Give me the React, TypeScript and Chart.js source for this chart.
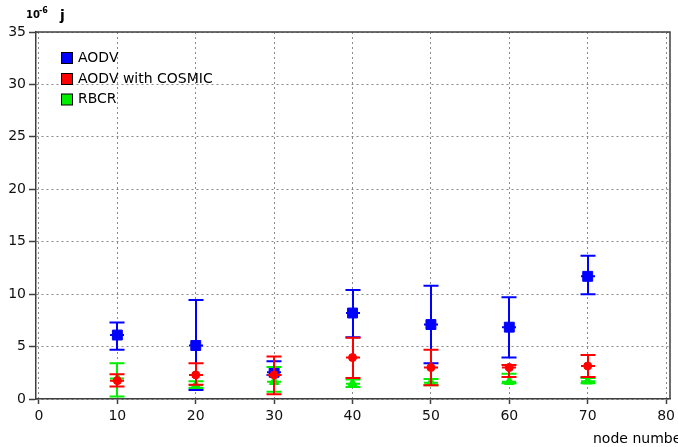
import React, { useEffect, useRef } from 'react';
import { Chart, registerables } from 'chart.js';

Chart.register(...registerables);

const nodeNumbers = [10, 20, 30, 40, 50, 60, 70];
const xTickValues = [0, 10, 20, 30, 40, 50, 60, 70, 80];

const aodvMean = [6.1, 5.1, 2.55, 8.2, 7.1, 6.85, 11.7];
const aodvUpper = [7.3, 9.45, 3.6, 10.4, 10.8, 9.7, 13.65];
const aodvLower = [4.7, 0.85, 2.3, 5.9, 3.4, 3.95, 10.0];

const cosmicMean = [1.75, 2.3, 2.3, 3.95, 3.0, 3.0, 3.15];
const cosmicUpper = [2.35, 3.4, 4.05, 5.85, 4.7, 3.25, 4.2];
const cosmicLower = [1.2, 1.35, 0.45, 2.0, 1.3, 2.1, 2.1];

const rbcrMean = [1.95, 1.3, 1.65, 1.45, 1.55, 1.65, 1.7];
const rbcrUpper = [3.4, 1.7, 3.05, 1.85, 1.9, 2.4, 2.0];
const rbcrLower = [0.25, 1.05, 0.7, 1.15, 1.3, 1.5, 1.5];

const seriesLabels = ['AODV', 'AODV with COSMIC', 'RBCR'];
const seriesColors = ['#0000ff', '#ff0000', '#00ee00'];

const FONT = '"DejaVu Sans", Verdana, sans-serif';

const errorBarPlugin = {
  id: 'errorBars',
  beforeDatasetDraw(chart: any, args: any) {
    const ds = chart.data.datasets[args.index];
    if (!ds.errUpper) return;
    const xs = chart.scales.x;
    const ys = chart.scales.y;
    const ctx = chart.ctx;
    ctx.save();
    ctx.strokeStyle = ds.borderColor;
    ctx.lineWidth = 2;
    ctx.setLineDash([]);
    ds.data.forEach((p: any, i: number) => {
      const px = Math.round(xs.getPixelForValue(p.x));
      const pm = ys.getPixelForValue(p.y);
      const pu = ys.getPixelForValue(ds.errUpper[i]);
      const pl = ys.getPixelForValue(ds.errLower[i]);
      const cap = 7.5;
      ctx.beginPath();
      ctx.moveTo(px, pu);
      ctx.lineTo(px, pl);
      ctx.moveTo(px - cap, pu);
      ctx.lineTo(px + cap, pu);
      ctx.moveTo(px - cap, pl);
      ctx.lineTo(px + cap, pl);
      ctx.moveTo(px - 7, pm);
      ctx.lineTo(px + 7, pm);
      ctx.stroke();
    });
    ctx.restore();
  },
};

const framePlugin = {
  id: 'frameAndText',
  afterDraw(chart: any) {
    const ctx = chart.ctx;
    const a = chart.chartArea;
    ctx.save();
    ctx.strokeStyle = '#404040';
    ctx.lineWidth = 1.5;
    ctx.setLineDash([]);
    ctx.beginPath();
    ctx.moveTo(a.left, a.top);
    ctx.lineTo(a.right, a.top);
    ctx.lineTo(a.right, a.bottom);
    ctx.stroke();

    // legend
    ctx.font = `14px ${FONT}`;
    ctx.textBaseline = 'middle';
    ctx.textAlign = 'left';
    const centers = [58, 79, 99.5];
    seriesLabels.forEach((lab, i) => {
      const cy = centers[i];
      ctx.fillStyle = seriesColors[i];
      ctx.fillRect(61.5, cy - 5.5, 11, 11);
      ctx.strokeStyle = '#000';
      ctx.lineWidth = 1;
      ctx.strokeRect(61.5, cy - 5.5, 11, 11);
      ctx.fillStyle = '#000';
      ctx.fillText(lab, 78, cy);
    });

    // unit label
    ctx.textBaseline = 'alphabetic';
    ctx.fillStyle = '#000';
    ctx.font = `bold 10px ${FONT}`;
    ctx.fillText('10', 26, 18);
    ctx.font = `bold 8px ${FONT}`;
    ctx.fillText('-6', 39, 13);
    ctx.font = `bold 14px ${FONT}`;
    ctx.fillText('j', 60, 20);

    // x axis title
    ctx.font = `14px ${FONT}`;
    ctx.fillText('node number', 593, 443);
    ctx.restore();
  },
};

function makeData(means: number[]) {
  return nodeNumbers.map((x, i) => ({ x, y: means[i] }));
}

export default function App() {
  const ref = useRef<HTMLCanvasElement | null>(null);
  useEffect(() => {
    if (!ref.current) return;
    const chart = new Chart(ref.current, {
      type: 'scatter',
      data: {
        datasets: [
          {
            label: seriesLabels[0],
            data: makeData(aodvMean),
            errUpper: aodvUpper,
            errLower: aodvLower,
            backgroundColor: seriesColors[0],
            borderColor: seriesColors[0],
            pointStyle: 'rect',
            pointRadius: 7,
            borderWidth: 1,
            order: 3,
          } as any,
          {
            label: seriesLabels[1],
            data: makeData(cosmicMean),
            errUpper: cosmicUpper,
            errLower: cosmicLower,
            backgroundColor: seriesColors[1],
            borderColor: seriesColors[1],
            pointStyle: 'circle',
            pointRadius: 4,
            borderWidth: 1,
            order: 1,
          } as any,
          {
            label: seriesLabels[2],
            data: makeData(rbcrMean),
            errUpper: rbcrUpper,
            errLower: rbcrLower,
            backgroundColor: seriesColors[2],
            borderColor: seriesColors[2],
            pointStyle: 'triangle',
            pointRadius: 5.5,
            borderWidth: 1,
            order: 2,
          } as any,
        ],
      },
      options: {
        animation: false,
        responsive: false,
        layout: { padding: { top: 32, right: 6, left: 0, bottom: 0 } },
        plugins: {
          legend: { display: false },
          tooltip: { enabled: false },
        },
        scales: {
          x: {
            type: 'linear',
            min: -0.38,
            max: 80.5,
            afterBuildTicks: (scale: any) => {
              scale.ticks = xTickValues.map((v) => ({ value: v }));
            },
            afterFit: (scale: any) => {
              scale.height = 48;
              scale.paddingLeft = 0;
              scale.paddingRight = 0;
            },
            grid: {
              color: '#8a8a8a',
              lineWidth: 1,
              drawTicks: true,
              tickLength: 5,
              tickColor: '#404040',
              tickWidth: 1.5,
              tickBorderDash: [],
            },
            border: { display: true, color: '#404040', width: 1.5, dash: [2, 3] },
            ticks: {
              padding: 4,
              color: '#111',
              font: { family: FONT, size: 14 },
              maxRotation: 0,
              autoSkip: false,
            },
          },
          y: {
            type: 'linear',
            min: 0,
            max: 35,
            afterFit: (scale: any) => {
              scale.width = 36;
              scale.paddingTop = 0;
              scale.paddingBottom = 0;
            },
            grid: {
              color: '#8a8a8a',
              lineWidth: 1,
              drawTicks: true,
              tickLength: 7,
              tickColor: '#404040',
              tickWidth: 1.5,
              tickBorderDash: [],
            },
            border: { display: true, color: '#404040', width: 1.5, dash: [2, 3] },
            ticks: {
              stepSize: 5,
              padding: 3,
              color: '#111',
              font: { family: FONT, size: 14 },
            },
          },
        },
      },
      plugins: [errorBarPlugin, framePlugin],
    });
    return () => chart.destroy();
  }, []);

  return (
    <div style={{ position: 'absolute', left: 0, top: 0, width: 678, height: 447, background: '#fff' }}>
      <canvas ref={ref} width={678} height={447} />
    </div>
  );
}
